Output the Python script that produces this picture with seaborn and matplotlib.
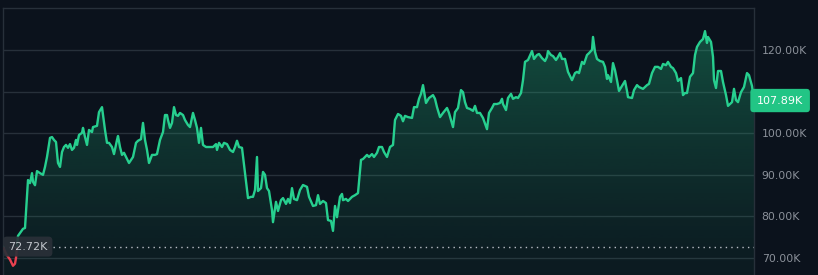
import numpy as np
import pandas as pd
import matplotlib
matplotlib.use("Agg")
import matplotlib.pyplot as plt
import matplotlib.transforms as mtransforms
from matplotlib.patches import Rectangle
import seaborn as sns

# ---- data (time index, price in thousands USD) ----
t = [0, 3, 7, 10, 12, 13, 14,
     15, 20, 22, 25, 27, 29, 30, 32, 34, 37, 40, 42, 44, 47, 49, 51, 53, 55, 57, 59, 61, 63,
     65, 67, 69, 71, 73, 74, 76, 79, 80, 82, 84, 86, 89, 90, 94, 96, 99, 100, 102, 104, 106,
     109, 111, 114, 115, 117, 119, 121, 123, 126, 130, 133, 135, 138, 140, 142, 144, 146, 149,
     152, 154, 157, 160, 162, 164, 165, 167, 169, 171, 173, 175, 177, 180, 182, 185, 187, 190,
     192, 194, 196, 198, 200, 203, 207, 210, 213, 214, 216, 219, 221, 224, 227, 230, 232, 234,
     236, 239, 242, 245, 248, 250, 252, 254, 255, 258, 260, 262, 264, 266, 269, 270, 273, 275,
     278, 280, 283, 285, 287, 289, 291, 294, 297, 300, 304, 306, 310, 313, 315, 317, 320, 323,
     325, 328, 330, 332, 334, 337, 339, 340, 343, 345, 349, 352, 355, 358, 360, 364, 366, 369,
     371, 374, 376, 379, 381, 384, 387, 390, 392, 395, 398, 400, 402, 405, 409, 411, 414, 416,
     418, 420, 423, 426, 430, 432, 434, 437, 440, 444, 446, 450, 452, 455, 458, 460, 462, 464,
     467, 470, 472, 474, 477, 480, 484, 486, 489, 491, 494, 497, 499, 500, 503, 505, 508, 510,
     513, 515, 518, 520, 522, 525, 529, 531, 534, 536, 539, 542, 544, 545, 548, 550, 553, 555,
     557, 559, 562, 565, 569, 572, 574, 576, 579, 581, 584, 586, 589, 590, 592, 594, 597, 600,
     602, 604, 605, 608, 610, 612, 614, 616, 619, 622, 624, 625, 629, 631, 634, 636, 640, 644,
     646, 649, 652, 655, 658, 660, 663, 665, 668, 670, 673, 675, 678, 680, 682, 684, 687, 690,
     692, 694, 697, 700, 702, 704, 705, 708, 710, 711, 713, 715, 718, 720, 723, 725, 729, 731,
     733, 735, 738, 741, 744, 746, 749, 751]
price = [72.72, 71.0, 69.6, 68.1, 68.6, 70.0, 72.9,
         75.3, 77.0, 77.2, 88.75, 88.0, 90.4, 88.3, 87.5, 90.9, 90.4, 90.0, 91.9, 94.3, 98.9,
         99.1, 98.4, 97.9, 92.85, 91.9, 95.5, 96.7, 97.2,
         96.5, 97.4, 96.0, 96.5, 98.4, 97.2, 99.6, 100.1, 101.3, 99.1, 97.2, 100.8, 100.3, 101.5,
         101.8, 105.1, 106.3, 104.4, 100.8, 97.7, 97.7,
         96.7, 95.0, 98.4, 99.35, 96.7, 94.8, 95.3, 94.3, 92.85, 94.3, 97.7, 98.2, 98.6, 102.5,
         98.4, 96.0, 92.85, 94.8,
         94.8, 95.0, 98.4, 100.3, 104.4, 104.4, 103.2, 101.3, 102.5, 106.3, 104.4, 104.2, 104.9,
         104.4, 103.2, 102.0, 101.5, 104.9,
         103.2, 101.3, 97.7, 101.3, 97.2, 96.7, 96.7, 96.7, 97.4, 96.0, 97.7, 96.7, 97.7, 97.4,
         96.0, 95.5, 96.7, 98.2,
         96.7, 96.5, 90.4, 84.4, 84.7, 84.7, 86.35, 94.3, 86.1, 86.8, 90.7, 90.0, 86.8, 86.1,
         81.5, 78.6, 83.5, 81.3,
         83.9, 84.4, 83.0, 84.2, 83.2, 86.8, 84.2, 83.9, 86.35, 87.55, 87.1, 84.7, 82.5, 82.7,
         85.1, 83.0, 83.7, 83.2,
         79.1, 78.9, 76.5, 82.5, 79.8, 84.7, 85.4, 83.9, 84.2, 83.7, 84.7, 85.1, 85.6, 93.6,
         93.8, 94.8, 94.3, 95.0,
         94.3, 95.3, 96.7, 96.7, 95.5, 94.3, 96.7, 97.2, 103.2, 104.65, 104.2, 102.9, 104.2,
         103.9, 103.7, 106.3, 106.3, 108.3,
         109.5, 111.6, 107.3, 108.5, 109.2, 108.3, 106.3, 103.9, 104.9, 106.1, 104.9, 101.5,
         105.1, 106.1, 110.4, 109.9, 107.5, 106.1,
         105.85, 105.4, 106.6, 104.9, 104.9, 103.7, 101.0, 104.9, 106.1, 107.05, 107.05, 107.3,
         108.3, 107.05, 105.6, 108.5, 109.5, 108.3,
         108.7, 108.5, 109.7, 112.8, 117.2, 117.65, 119.8, 117.9, 118.85, 119.1, 118.1, 117.4,
         118.4, 119.8, 118.85, 118.6, 117.65, 118.4,
         119.3, 117.9, 117.9, 114.8, 112.8, 114.5, 114.8, 114.5, 117.2, 116.7, 118.85, 119.3,
         120.1, 123.2, 119.6, 117.9, 117.4, 117.2,
         116.0, 113.1, 114.0, 112.35, 116.9, 115.2, 112.8, 110.2, 111.4, 112.6, 110.2, 108.7,
         108.5, 110.4, 111.6, 111.15, 110.7, 111.6,
         111.9, 114.5, 116.0, 116.0, 115.5, 116.7, 116.4, 117.2, 116.0, 115.7, 114.5, 112.6,
         113.3, 109.2, 109.7, 109.7, 113.6, 114.5,
         118.85, 120.8, 122.0, 122.7, 124.6, 121.75, 123.2, 122.0, 118.4, 112.8, 110.9, 115.0,
         115.0, 112.35, 109.2, 106.6, 107.5, 110.7,
         108.0, 107.5, 109.9, 111.15, 114.5, 114.0, 111.4, 107.89]

open_price = 72.72
last_price = price[-1]
y_ticks = [70, 80, 90, 100, 110, 120]
# the 110K label is hidden behind the last-price tag in the reference
y_tick_labels = ["70.00K", "80.00K", "90.00K", "100.00K", "", "120.00K"]

df = pd.DataFrame({"t": t, "price": price})

BG = "#0b121c"
GRID = "#27303a"
GREEN = "#27cf8f"
RED = "#e8414f"
TICK = "#8b919a"

sns.set_theme(style="dark")
plt.rcParams["font.family"] = ["DejaVu Sans"]

fig = plt.figure(figsize=(8.18, 2.75), dpi=100)
fig.patch.set_facecolor(BG)
W, H = 818, 275
ax = fig.add_axes([3 / W, 0, 751 / W, 267 / H])
ax.set_facecolor(BG)

ymin, ymax = 65.88, 130.17
xmin, xmax = 0, 751
ax.set_xlim(xmin, xmax)
ax.set_ylim(ymin, ymax)

# grid
for v in y_ticks:
    ax.axhline(v, color=GRID, lw=1.0, zorder=1)

# gradient fill under line
xs = np.asarray(t, float)
ys = np.asarray(price, float)
verts = np.column_stack([np.r_[xs[0], xs, xs[-1]], np.r_[ymin, ys, ymin]])
poly = plt.Polygon(verts, closed=True, facecolor="none", edgecolor="none")
ax.add_patch(poly)
grad = np.linspace(1, 0, 256).reshape(-1, 1)
rgba = np.zeros((256, 1, 4))
g = matplotlib.colors.to_rgb("#22c585")
rgba[..., 0], rgba[..., 1], rgba[..., 2] = g
rgba[..., 3] = 0.05 + 0.28 * grad[:, 0:1] ** 1.2
top = max(price)
im = ax.imshow(rgba, extent=[xmin, xmax, ymin, top], aspect="auto", origin="upper", zorder=2)
im.set_clip_path(poly)

# line: green above open price, red below
sns.lineplot(data=df, x="t", y="price", ax=ax, color=GREEN, lw=1.7, zorder=4, legend=False)
sns.lineplot(data=df, x="t", y="price", ax=ax, color=RED, lw=1.7, zorder=4, legend=False)
lines = ax.get_lines()
up_rect = Rectangle((xmin, open_price), xmax - xmin, ymax - open_price, transform=ax.transData)
dn_rect = Rectangle((xmin, ymin), xmax - xmin, open_price - ymin, transform=ax.transData)
lines[-2].set_clip_path(up_rect)
lines[-1].set_clip_path(dn_rect)

# dotted open price line
ax.axhline(open_price, color="#b9bec6", lw=1.0, ls=(0, (1, 3)), zorder=3)

# axes styling
for s in ["top", "left", "right"]:
    ax.spines[s].set_visible(True)
    ax.spines[s].set_color(GRID)
    ax.spines[s].set_linewidth(1.0)
ax.spines["bottom"].set_visible(False)
ax.set_xticks([])
ax.set_xlabel("")
ax.set_ylabel("")
ax.yaxis.tick_right()
ax.set_yticks(y_ticks)
ax.set_yticklabels(y_tick_labels)
ax.tick_params(axis="y", length=0, pad=5.5, labelsize=7.8, labelcolor=TICK)
ax.grid(False)

# last price tag
trans = mtransforms.blended_transform_factory(ax.transAxes, ax.transData)
ax.text(1.0 + 3 / 751, last_price, f"{last_price:.2f}K", transform=trans, ha="left", va="center",
        fontsize=8.0, color="white", zorder=10, clip_on=False,
        bbox=dict(boxstyle="round,pad=0.6,rounding_size=0.3", fc="#22c585", ec="none"))

# open price tag
ax.text(5, open_price, f"{open_price:.2f}K", ha="left", va="center",
        fontsize=8.0, color="#c3c7cd", zorder=10,
        bbox=dict(boxstyle="round,pad=0.45,rounding_size=0.35", fc="#2a3038", ec="none", alpha=0.92))

fig.savefig("out.png", dpi=100, facecolor=BG)
